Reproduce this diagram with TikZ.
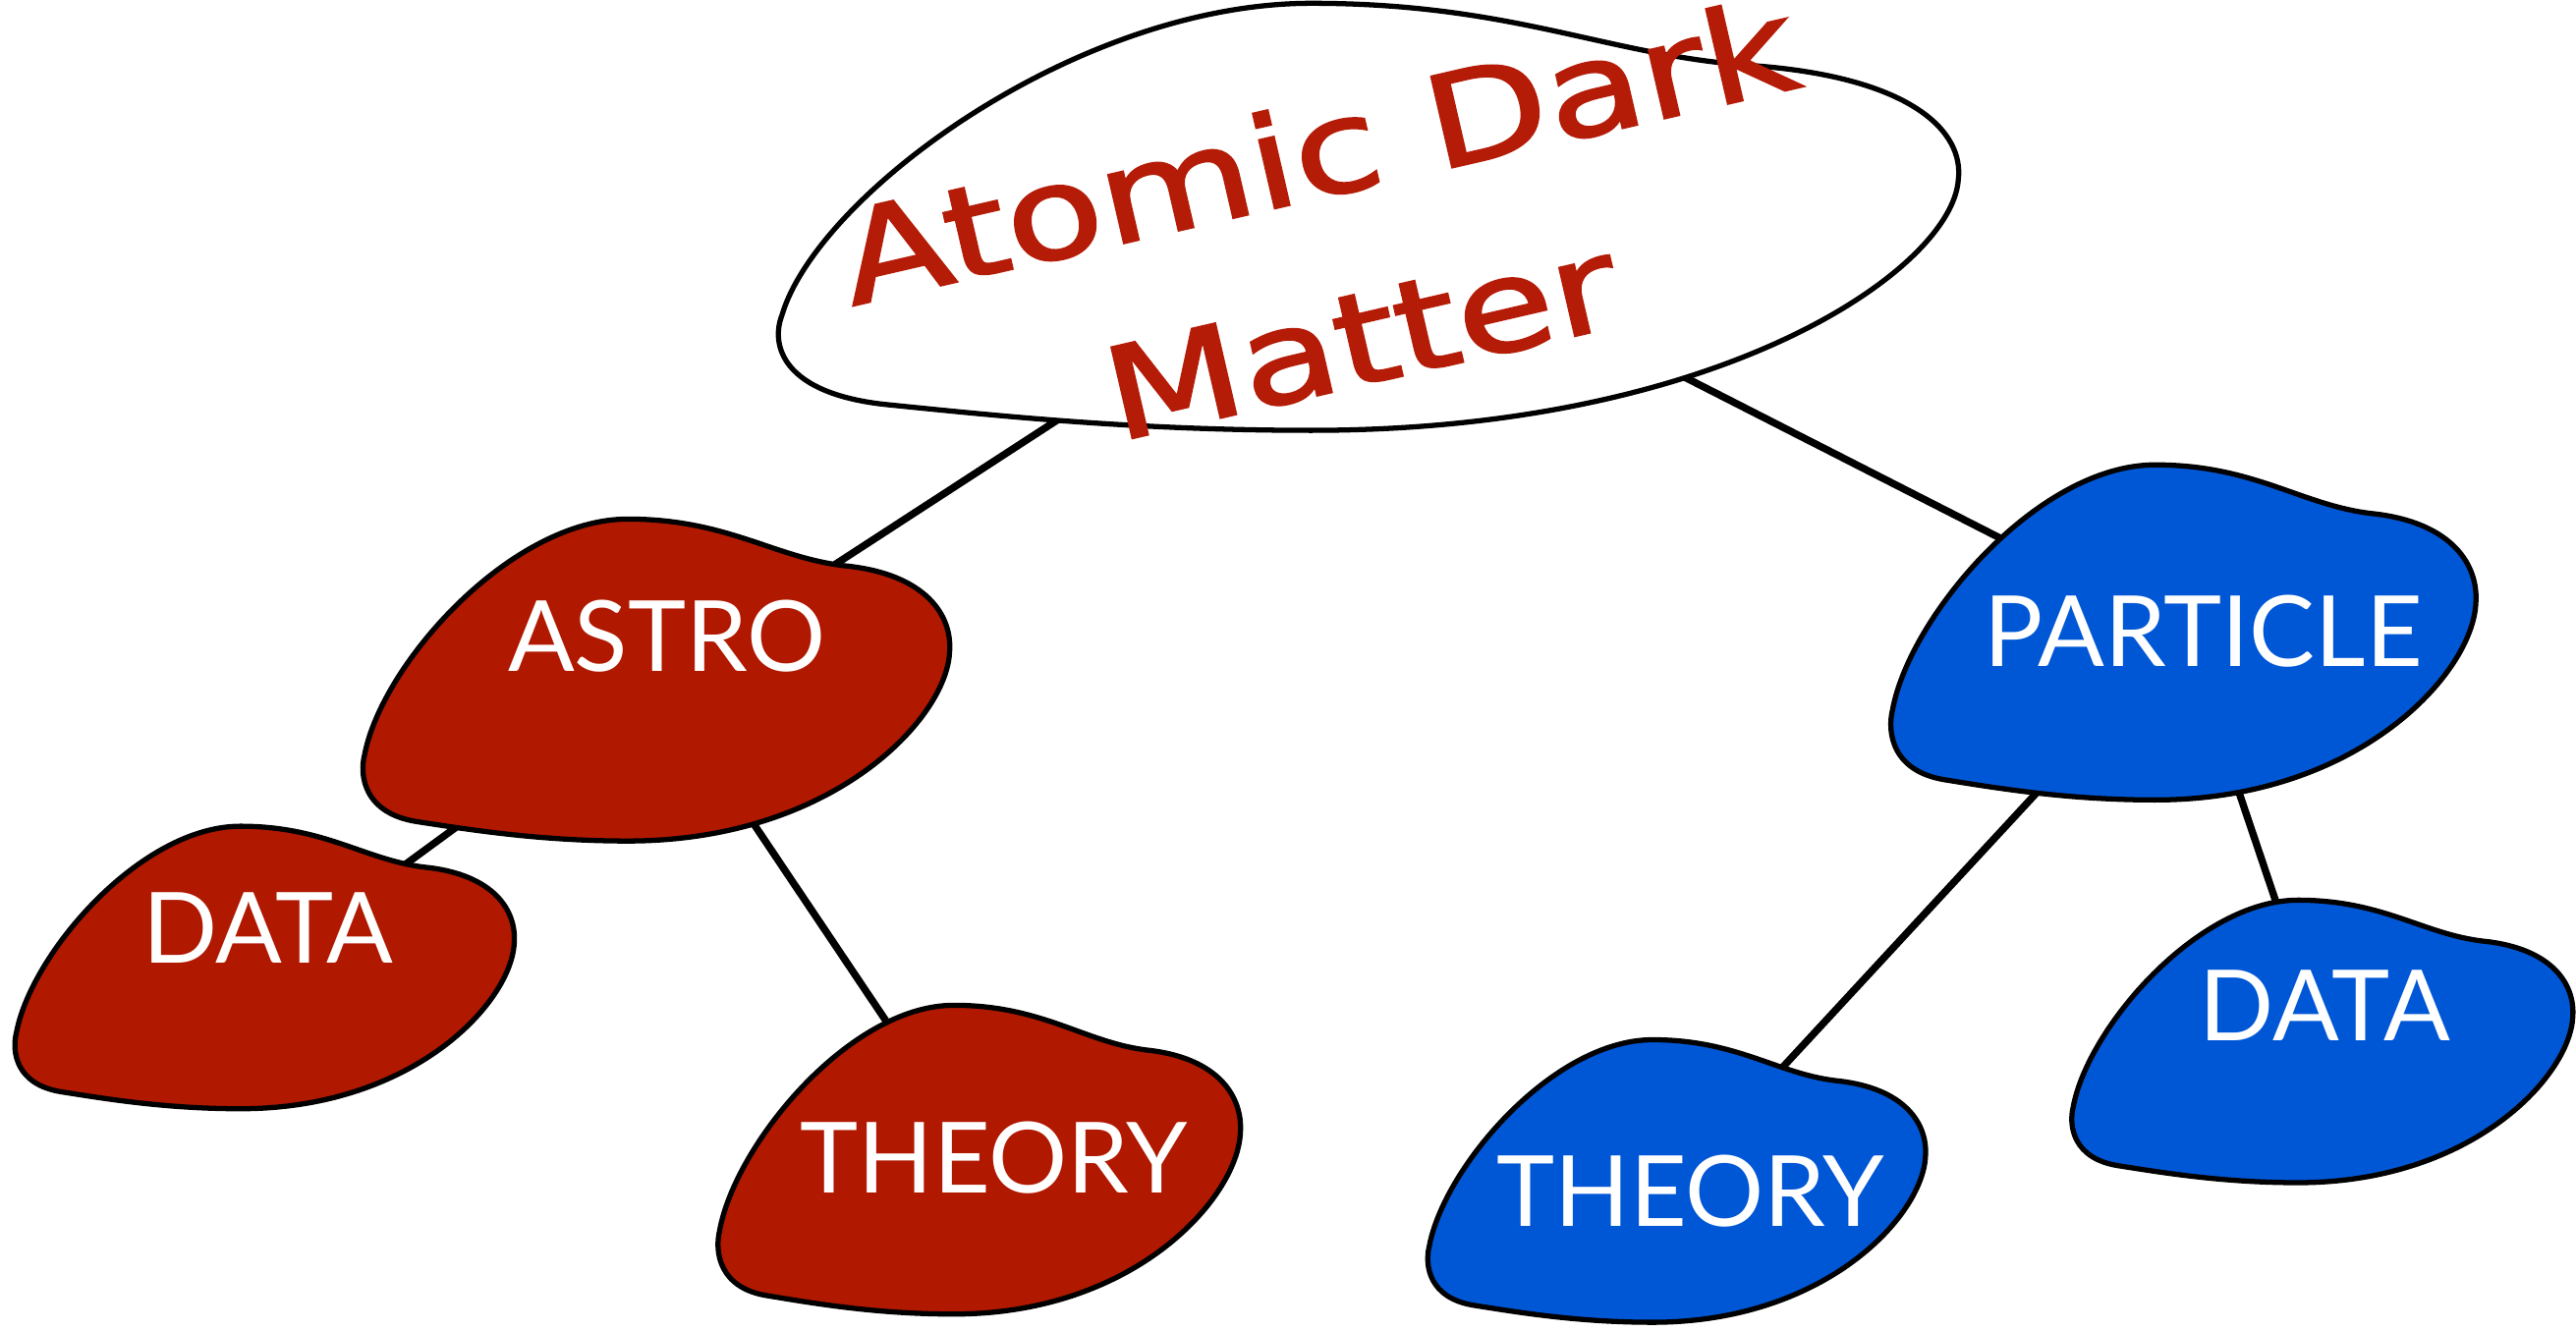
\documentclass[tikz,border=0pt]{standalone}
\usepackage{fontspec}
\setmainfont{Lato}
\newfontfamily\manofont[FakeBold=1.8]{DejaVu Sans}
\definecolor{rojoastro}{RGB}{176,24,0}
\definecolor{azulpart}{RGB}{0,87,214}
\definecolor{rojotitulo}{RGB}{180,28,8}

% contorno de mancha en caja unidad
\newcommand{\manchapath}{(0.45,0) .. controls (0.62,0) and (0.70,0.12) .. (0.82,0.145)
  .. controls (0.96,0.17) and (1.005,0.30) .. (1.0,0.413)
  .. controls (0.995,0.62) and (0.80,1.0) .. (0.45,1.0)
  .. controls (0.30,1.0) and (0.18,0.965) .. (0.09,0.94)
  .. controls (0.0,0.915) and (-0.01,0.80) .. (0.0,0.73)
  .. controls (0.03,0.45) and (0.25,0.0) .. (0.45,0) -- cycle}

\begin{document}
\begin{tikzpicture}[x=0.01672cm,y=-0.01672cm,
  mancha/.style={draw=black,line width=1.5pt},
  enlace/.style={draw=black,line width=2.1pt},
  etiqueta/.style={text=white,font=\fontsize{28.5}{30}\selectfont}]

\useasboundingbox (0,0) rectangle (1568,810);

% centros
\coordinate (adm) at (834,132);
\coordinate (astro) at (400,414);
\coordinate (adata) at (161,589);
\coordinate (atheory) at (596,706);
\coordinate (part) at (1330,385);
\coordinate (ptheory) at (1021,719);
\coordinate (pdata) at (1414,634);

% enlaces
\draw[enlace] (adm) -- (astro);
\draw[enlace] (adm) -- (part);
\draw[enlace] (astro) -- (adata);
\draw[enlace] (astro) -- (atheory);
\draw[enlace] (part) -- (ptheory);
\draw[enlace] (part) -- (pdata);

% manchas
\draw[mancha,fill=white,shift={(476,2)},xscale=716,yscale=260] \manchapath;
\draw[mancha,fill=rojoastro,shift={(222,316)},xscale=356,yscale=196] \manchapath;
\draw[mancha,fill=rojoastro,shift={(10,503)},xscale=303,yscale=172] \manchapath;
\draw[mancha,fill=rojoastro,shift={(438,612)},xscale=317,yscale=188] \manchapath;
\draw[mancha,fill=azulpart,shift={(1152,283)},xscale=355,yscale=204] \manchapath;
\draw[mancha,fill=azulpart,shift={(870,633)},xscale=302,yscale=172] \manchapath;
\draw[mancha,fill=azulpart,shift={(1262,548)},xscale=304,yscale=172] \manchapath;

% titulo
\node[rotate=13,xscale=1.24,text=rojotitulo,align=center,inner sep=0pt,
  font=\manofont\fontsize{37}{55.6}\selectfont] (titulo) at (815,148) {Atomic Dark\\Matter};

% etiquetas
\node[etiqueta] (tastro) at (406,387) {ASTRO};
\node[etiqueta] (tadata) at (163,565) {DATA};
\node[etiqueta] (tatheory) at (605,705) {THEORY};
\node[etiqueta] (tpart) at (1341,384) {PARTICLE};
\node[etiqueta] (tptheory) at (1029,725) {THEORY};
\node[etiqueta] (tpdata) at (1415,612) {DATA};

\end{tikzpicture}
\end{document}
